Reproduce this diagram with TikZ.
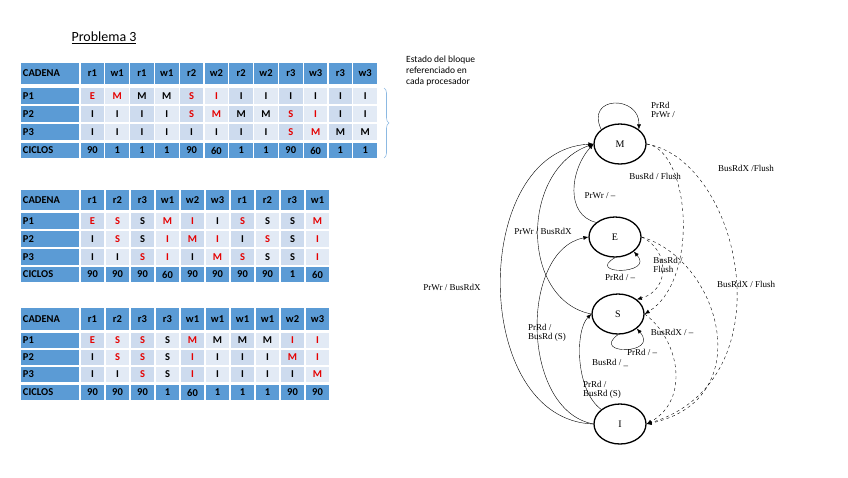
\documentclass[tikz,border=0pt]{standalone}
\usepackage{fontspec}
\setmainfont{Liberation Serif}
\setsansfont{Carlito}
\usetikzlibrary{shapes.geometric,arrows.meta,decorations.pathreplacing}
\definecolor{hblue}{RGB}{91,155,213}
\definecolor{bA}{RGB}{205,219,238}
\definecolor{bB}{RGB}{226,234,245}
\colorlet{hA}{hblue}\colorlet{hB}{hblue}
\colorlet{r}{red!90!black}\colorlet{k}{black}
\tikzset{cell/.style={draw=white,line width=1.2pt,font=\sffamily\bfseries\fontsize{10.5}{11}\selectfont,inner sep=0pt,anchor=center},
st/.style={ellipse,draw,line width=1.3pt,minimum width=52pt,minimum height=40pt,font=\fontsize{10}{11}\selectfont},
tr/.style={-{Latex[length=5pt,width=4pt]},line width=0.4pt},
bus/.style={tr,dashed},
lb/.style={font=\fontsize{9}{9.5}\selectfont,inner sep=1pt,align=left}}
\newcommand\trow[7]{%
 \node[cell,fill=hblue,minimum width=60pt,minimum height=#3pt,text width=54pt,align=left] (#1-0) at (50,#2+#3/2) {#5};
 \foreach \t/\c [count=\i] in {#6}{%
   \pgfmathsetmacro\xc{80+(\i-0.5)*#4}%
   \pgfmathtruncatemacro\odd{mod(\i,2)}%
   \ifnum\odd=1 \def\ff{#7A}\else\def\ff{#7B}\fi
   \node[cell,fill=\ff,text=\c,minimum width=#4pt,minimum height=#3pt] (#1-\i) at (\xc,#2+#3/2) {\t};
 }}
\begin{document}
\begin{tikzpicture}[x=1pt,y=-1pt]
\useasboundingbox (0,0) rectangle (848,477);
\node[font=\sffamily\fontsize{14}{16}\selectfont,anchor=west] (title) at (68,38) {\underline{Problema 3}};
% table 1
\trow{a}{62}{23}{24.8}{CADENA}{r1/k,w1/k,r1/k,w1/k,r2/k,w2/k,r2/k,w2/k,r3/k,w3/k,r3/k,w3/k}{h}
\trow{b}{87}{18}{24.8}{P1}{E/r,M/r,M/k,M/k,S/r,I/r,I/k,I/k,I/k,I/k,I/k,I/k}{b}
\trow{c}{105}{18}{24.8}{P2}{I/k,I/k,I/k,I/k,S/r,M/r,M/k,M/k,S/r,I/r,I/k,I/k}{b}
\trow{d}{123}{18}{24.8}{P3}{I/k,I/k,I/k,I/k,I/k,I/k,I/k,I/k,S/r,M/r,M/k,M/k}{b}
\trow{e}{142}{17}{24.8}{CICLOS}{90/k,1/k,1/k,1/k,90/k,60/k,1/k,1/k,90/k,60/k,1/k,1/k}{h}
\draw[decorate,decoration={brace,amplitude=5pt},hblue!70,line width=0.6pt] (384,88) -- (384,158);
\node[font=\sffamily\fontsize{9.5}{11}\selectfont,anchor=north west,align=left,inner sep=0pt] (est) at (406,56) {Estado del bloque\\referenciado en\\cada procesador};
% table 2
\trow{f}{189}{22}{25}{CADENA}{r1/k,r2/k,r3/k,w1/k,w2/k,w3/k,r1/k,r2/k,r3/k,w1/k}{h}
\trow{g}{212}{18}{25}{P1}{E/r,S/r,S/k,M/r,I/r,I/k,S/r,S/k,S/k,M/r}{b}
\trow{h}{230}{18}{25}{P2}{I/k,S/r,S/k,I/r,M/r,I/r,I/k,S/r,S/k,I/r}{b}
\trow{i}{248}{18}{25}{P3}{I/k,I/k,S/r,I/r,I/k,M/r,S/r,S/k,S/k,I/r}{b}
\trow{j}{266}{17}{25}{CICLOS}{90/k,90/k,90/k,60/k,90/k,90/k,90/k,90/k,1/k,60/k}{h}
% table 3
\trow{m}{307}{24}{25}{CADENA}{r1/k,r2/k,r3/k,r3/k,w1/k,w1/k,w1/k,w1/k,w2/k,w3/k}{h}
\trow{n}{332}{17}{25}{P1}{E/r,S/r,S/r,S/k,M/r,M/k,M/k,M/k,I/r,I/r}{b}
\trow{o}{349}{17}{25}{P2}{I/k,S/r,S/r,S/k,I/r,I/k,I/k,I/k,M/r,I/r}{b}
\trow{p}{366}{17}{25}{P3}{I/k,I/k,S/r,S/k,I/r,I/k,I/k,I/k,I/k,M/r}{b}
\trow{q}{384}{17}{25}{CICLOS}{90/k,90/k,90/k,1/k,60/k,1/k,1/k,1/k,90/k,90/k}{h}
% state diagram
\node[st] (M) at (620,144) {M};
\node[st] (E) at (615,237) {E};
\node[st] (S) at (618,314) {S};
\node[st] (I) at (620,424) {I};
\draw[tr] (M.north west) .. controls (585,95) and (640,95) .. (M.north east);
\node[lb] (lM) at (663,110) {PrRd\\PrWr /};
\draw[tr] (E.north west) .. controls (565,215) and (570,170) .. (M.west);
\node[lb] (lEM) at (600,196) {PrWr / --};
\draw[tr] (S.west) .. controls (520,300) and (520,170) .. (M.west);
\node[lb] (lSM) at (543,231) {PrWr / BusRdX};
\draw[tr] (I.west) .. controls (470,420) and (470,150) .. (M.west);
\node[lb] (lIM) at (452,287) {PrWr / BusRdX};
\draw[tr] (I.west) .. controls (520,410) and (520,250) .. (E.west);
\node[lb] (lIE) at (547,333) {PrRd /\\BusRd (S)};
\draw[tr] (I.north west) .. controls (575,390) and (575,330) .. (S.west);
\node[lb] (lIS) at (602,390) {PrRd /\\BusRd (S)};
\draw[tr] (E.south) .. controls (585,275) and (655,275) .. (E.south east);
\node[lb] (lEE) at (620,277) {PrRd / --};
\draw[tr] (S.south) .. controls (590,355) and (660,355) .. (S.south east);
\node[lb] (lSS) at (642,352) {PrRd / --};
\node[lb] (lSS2) at (610,363) {BusRd / \_};
\draw[bus] (E.east) .. controls (670,250) and (670,290) .. (S.north east);
\node[lb] (lES) at (668,265) {BusRd /\\Flush};
\draw[bus] (M.east) .. controls (690,150) and (700,280) .. (S.east);
\node[lb] (lMS) at (655,176) {BusRd / Flush};
\draw[bus] (M.east) .. controls (740,160) and (790,380) .. (I.east);
\node[lb] (lMI) at (746,168) {BusRdX /Flush};
\draw[bus] (E.east) .. controls (720,260) and (760,400) .. (I.east);
\node[lb] (lEI) at (746,284) {BusRdX / Flush};
\draw[bus] (S.east) .. controls (680,340) and (690,400) .. (I.east);
\node[lb] (lSI) at (672,332) {BusRdX / --};
\end{tikzpicture}
\end{document}
